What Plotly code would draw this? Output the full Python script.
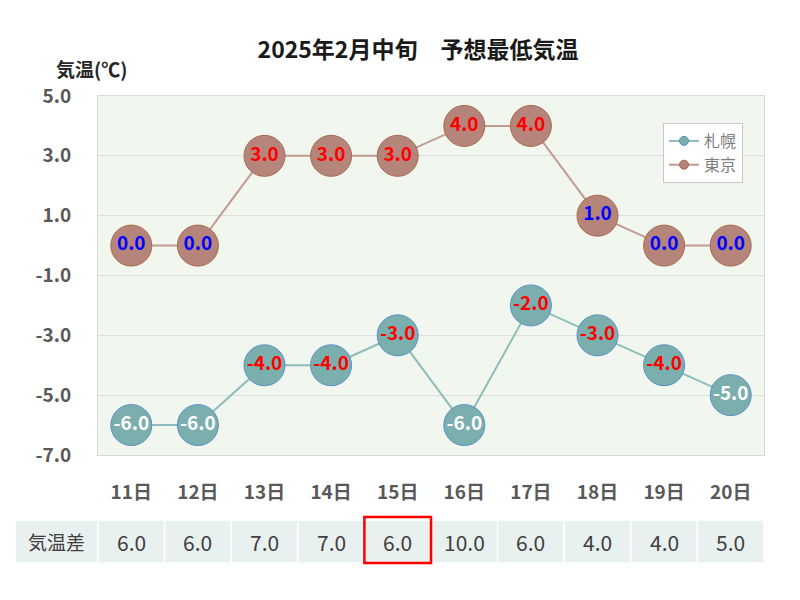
import plotly.graph_objects as go

days = ["11日", "12日", "13日", "14日", "15日", "16日", "17日", "18日", "19日", "20日"]
sapporo = [-6.0, -6.0, -4.0, -4.0, -3.0, -6.0, -2.0, -3.0, -4.0, -5.0]
tokyo = [0.0, 0.0, 3.0, 3.0, 3.0, 4.0, 4.0, 1.0, 0.0, 0.0]
diff = [6.0, 6.0, 7.0, 7.0, 6.0, 10.0, 6.0, 4.0, 4.0, 5.0]
highlight_day = "15日"

FONT = "Noto Sans CJK JP"
C_SAP = "#7aafae"
C_SAP_LINE = "#8dbdbb"
C_SAP_EDGE = "#5b8fc9"
C_TOK = "#b5857c"
C_TOK_LINE = "#c29b93"
C_TOK_EDGE = "#a8694c"
C_TEXT = "#595959"

# the page body adds 8px, so pixel positions below are the reference's minus 8
OFF = 8
L, R, T, B = 98 - OFF, 44, 96 - OFF, 145 + OFF
PH = 600 - T - B
PW = 800 - L - R


def px_x(x):
    return (x - OFF - L) / PW


def px_y(y):
    return (T + PH - (y - OFF)) / PH


def sap_color(v):
    return "white" if v <= -5 else "red"


def tok_color(v):
    return "red" if v >= 3 else "blue"


def fmt(v):
    return f"{v:.1f}"


fig = go.Figure()
idx = list(range(len(days)))
fig.add_trace(go.Scatter(
    x=idx, y=sapporo, mode="lines+markers+text", name="札幌", showlegend=False,
    line=dict(color=C_SAP_LINE, width=2),
    marker=dict(size=41, color=C_SAP, line=dict(color=C_SAP_EDGE, width=1)),
    text=[fmt(v) for v in sapporo], textposition="middle center",
    textfont=dict(family=FONT, size=19, color=[sap_color(v) for v in sapporo], weight="bold"),
    cliponaxis=False, hoverinfo="skip",
))
fig.add_trace(go.Scatter(
    x=idx, y=tokyo, mode="lines+markers+text", name="東京", showlegend=False,
    line=dict(color=C_TOK_LINE, width=2),
    marker=dict(size=41, color=C_TOK, line=dict(color=C_TOK_EDGE, width=1)),
    text=[fmt(v) for v in tokyo], textposition="middle center",
    textfont=dict(family=FONT, size=19, color=[tok_color(v) for v in tokyo], weight="bold"),
    cliponaxis=False, hoverinfo="skip",
))
# legend-only traces
for name, c, lc, ec in [("札幌", C_SAP, C_SAP_LINE, C_SAP_EDGE), ("東京", C_TOK, C_TOK_LINE, C_TOK_EDGE)]:
    fig.add_trace(go.Scatter(
        x=[None], y=[None], mode="lines+markers", name=name,
        line=dict(color=lc, width=2),
        marker=dict(size=9, color=c, line=dict(color=ec, width=1)),
    ))

# table under the x axis
shapes = []
annotations = []
ty0, ty1 = px_y(520), px_y(563)
first_x0 = px_x(15)
shapes.append(dict(type="rect", xref="paper", yref="paper", x0=first_x0, x1=0,
                   y0=ty1, y1=ty0, fillcolor="#e9f1f0", line=dict(color="white", width=1.5), layer="below"))
annotations.append(dict(xref="paper", yref="paper", x=first_x0 / 2, y=(ty0 + ty1) / 2,
                        xanchor="center", yanchor="middle", text="気温差", showarrow=False,
                        font=dict(family=FONT, size=19, color="#404040")))
n = len(days)
for i, (d, v) in enumerate(zip(days, diff)):
    x0, x1 = i / n, (i + 1) / n
    shapes.append(dict(type="rect", xref="paper", yref="paper", x0=x0, x1=x1,
                       y0=ty1, y1=ty0, fillcolor="#e9f1f0", line=dict(color="white", width=1.5), layer="below"))
    annotations.append(dict(xref="paper", yref="paper", x=(x0 + x1) / 2, y=(ty0 + ty1) / 2,
                            xanchor="center", yanchor="middle", text=fmt(v), showarrow=False,
                            font=dict(family=FONT, size=21, color="#404040")))
    if d == highlight_day:
        shapes.append(dict(type="rect", xref="paper", yref="paper", x0=x0, x1=x1,
                           y0=px_y(563), y1=px_y(517),
                           line=dict(color="red", width=2.5)))

annotations.append(dict(xref="paper", yref="paper", x=px_x(91), y=px_y(68),
                        text="<b>気温(℃)</b>", showarrow=False, xanchor="center", yanchor="middle",
                        font=dict(family=FONT, size=19, color="#262626")))

fig.update_layout(
    width=800, height=600,
    margin=dict(l=L, r=R, t=T, b=B),
    paper_bgcolor="white",
    plot_bgcolor="#f1f6ee",
    title=dict(text="<b>2025年2月中旬　予想最低気温</b>", x=(418 - OFF) / 800, xanchor="center",
               y=1 - (50 - OFF) / 600, yanchor="middle",
               font=dict(family=FONT, size=23, color="#1a1a1a")),
    font=dict(family=FONT, color=C_TEXT),
    legend=dict(x=px_x(663), y=px_y(123), xanchor="left", yanchor="top",
                bgcolor="white", bordercolor="#c8c8c8", borderwidth=1,
                font=dict(family=FONT, size=16, color="#7f7f7f"), itemwidth=30),
    xaxis=dict(
        range=[-0.5, n - 0.5], tickmode="array", tickvals=idx, ticktext=[f"<b>{d}</b>" for d in days],
        tickfont=dict(family=FONT, size=19, color=C_TEXT), showgrid=False, zeroline=False,
        showline=True, linecolor="#d9d9d9", ticks="", ticklabelstandoff=20, mirror=True,
    ),
    yaxis=dict(
        range=[-7, 5], tickmode="array", tickvals=[5, 3, 1, -1, -3, -5, -7],
        ticktext=[f"<b>{v:.1f}</b>" for v in [5, 3, 1, -1, -3, -5, -7]],
        tickfont=dict(family=FONT, size=19, color=C_TEXT),
        gridcolor="#dcdfdc", zeroline=False, showline=True, linecolor="#d9d9d9",
        ticklabelstandoff=22, mirror=True,
    ),
    shapes=shapes,
    annotations=annotations,
)

fig.write_html("out.html")
